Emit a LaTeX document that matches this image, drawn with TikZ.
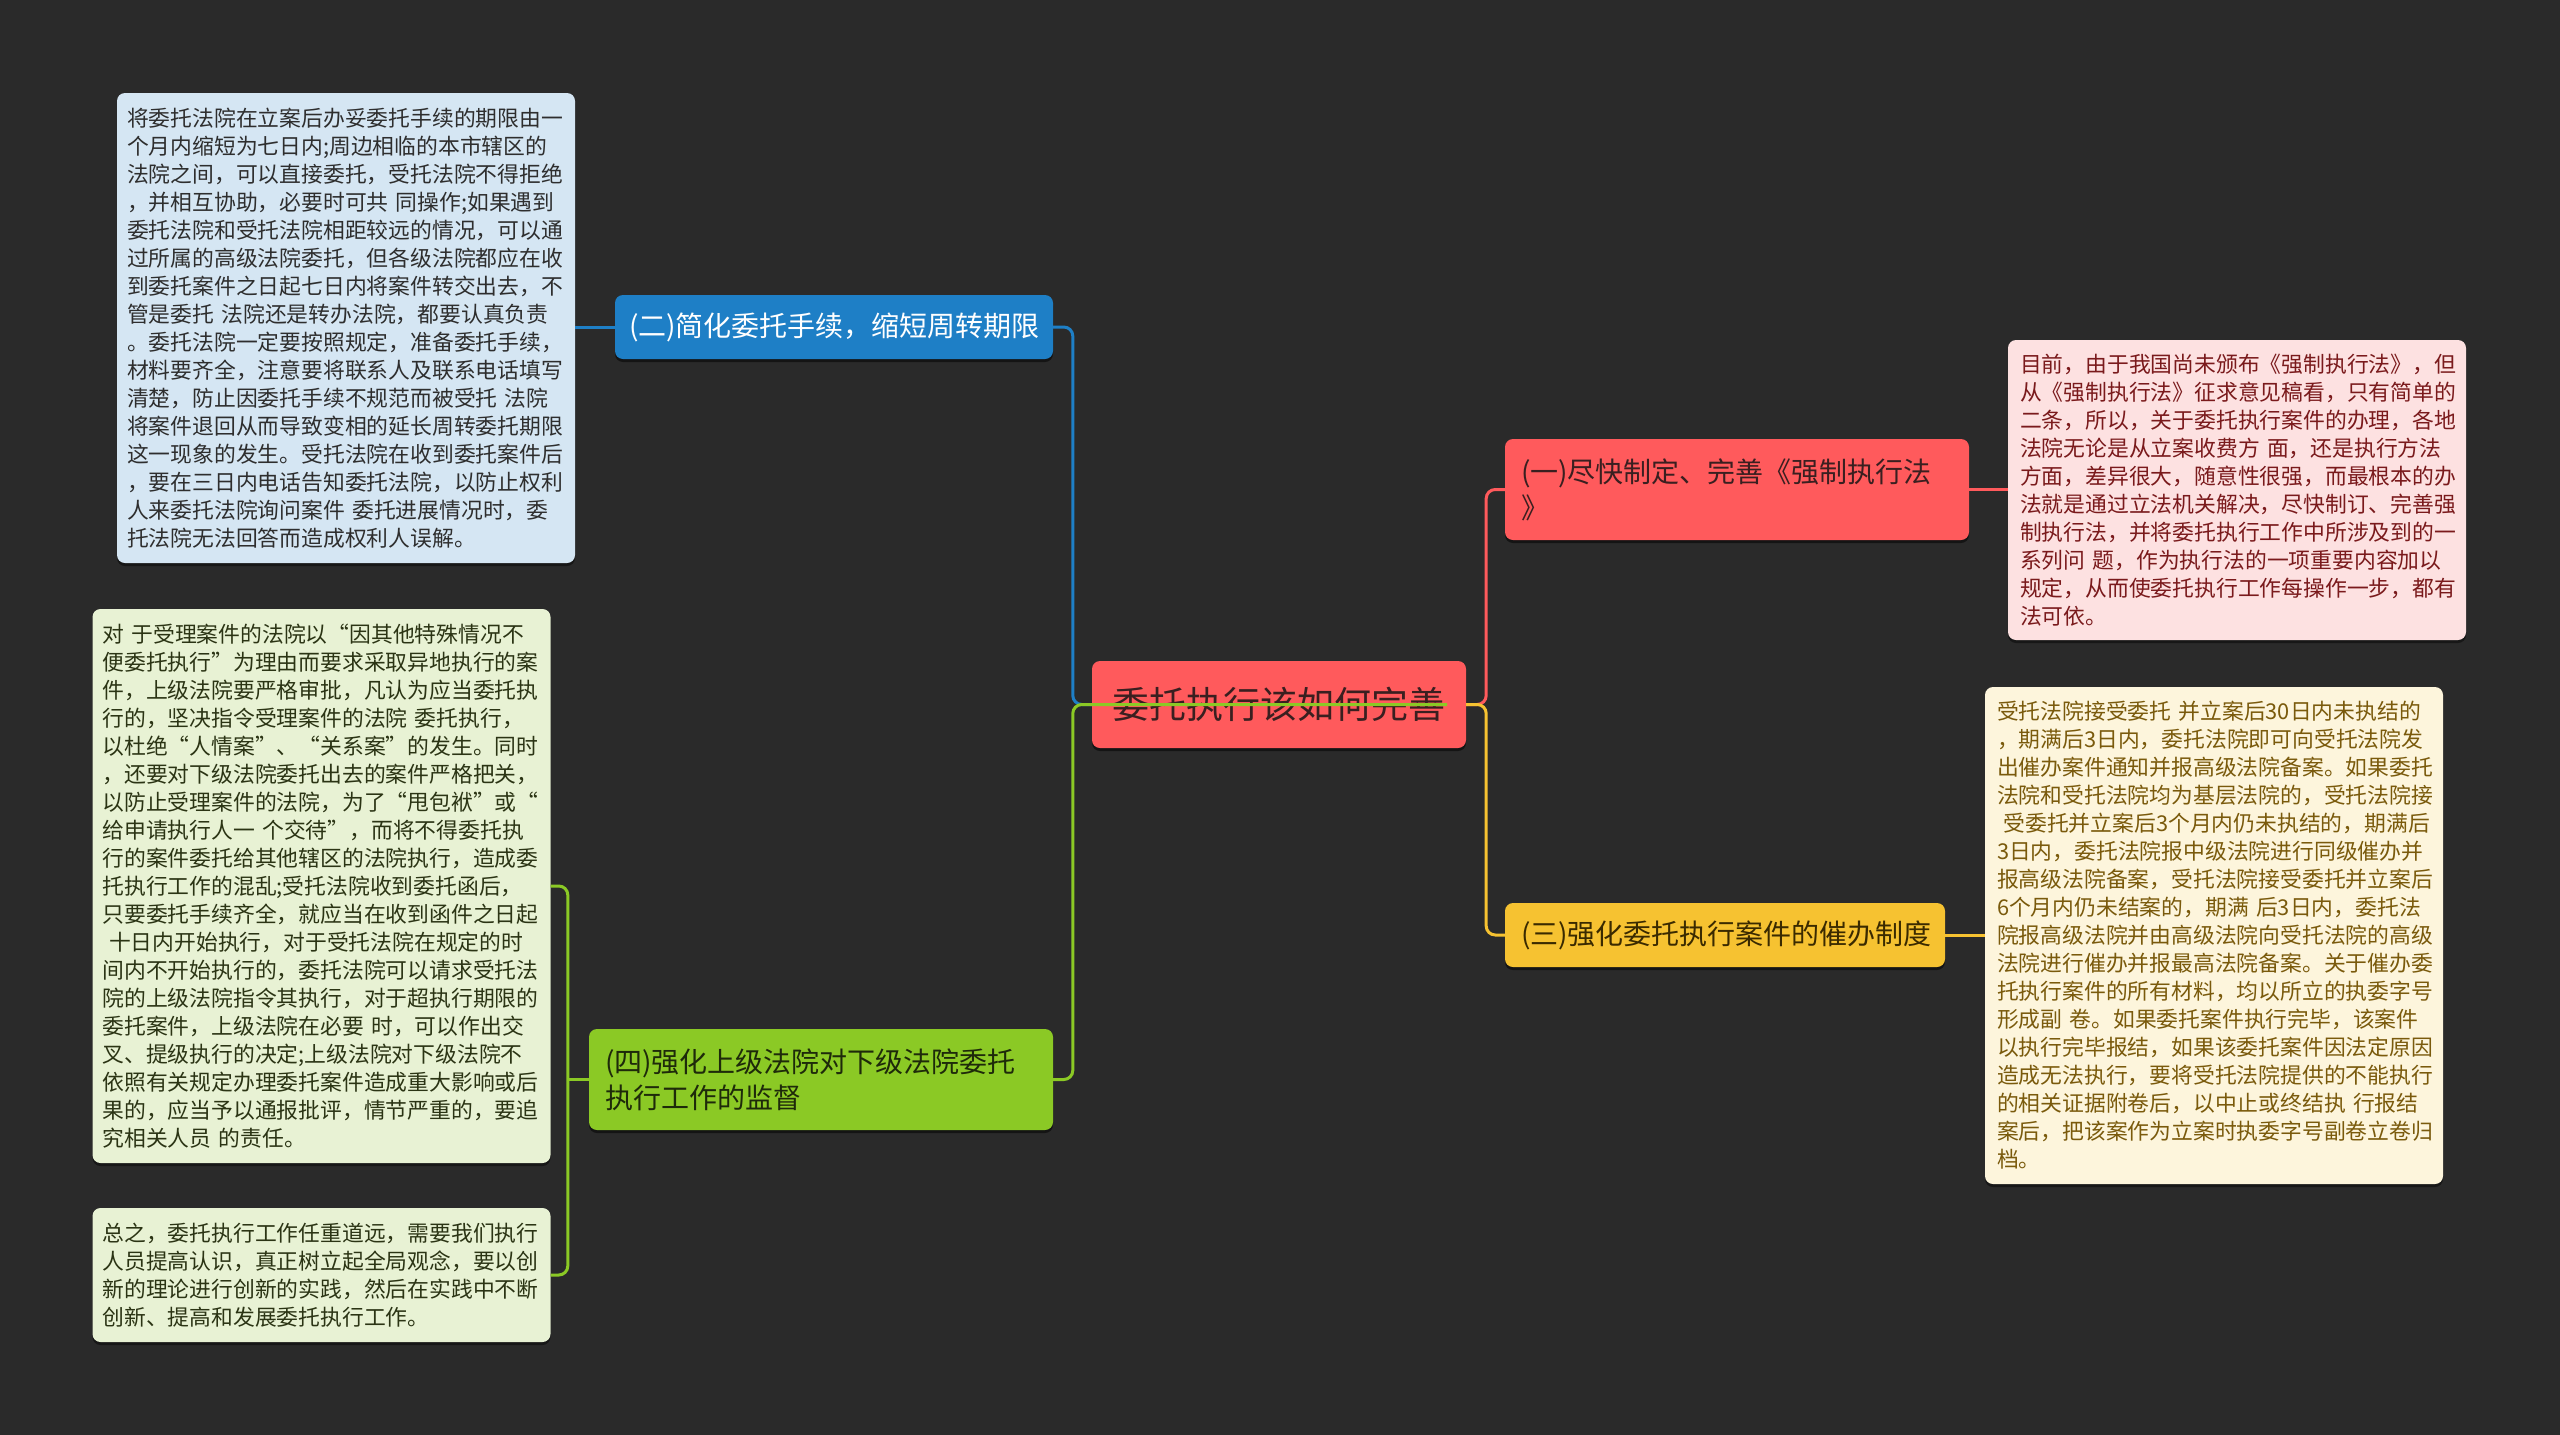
\documentclass[tikz,border=0pt]{standalone}
\usepackage{fontspec}
\setmainfont{Noto Sans CJK SC}
\usetikzlibrary{calc,shadows}
\definecolor{bg}{HTML}{2A2A2A}
\definecolor{cblue}{HTML}{1E7FC6}
\definecolor{cred}{HTML}{FF5A5C}
\definecolor{cyel}{HTML}{F6C231}
\definecolor{cgreen}{HTML}{8BC925}
\definecolor{lblue}{HTML}{D5E6F3}
\definecolor{lgreen}{HTML}{E8F2D4}
\definecolor{lpink}{HTML}{FDE1E1}
\definecolor{lcream}{HTML}{FDF5DC}
\definecolor{tdark}{HTML}{2E2E2E}
\definecolor{tgreen}{HTML}{2B3414}
\definecolor{tred}{HTML}{7A1A1C}
\definecolor{tbrown}{HTML}{7A5A0C}
\definecolor{tbr1}{HTML}{3A1F20}
\definecolor{tbr3}{HTML}{3A2A00}
\definecolor{tbr4}{HTML}{1E2A0A}
\tikzset{
  leafbox/.style={rounded corners=8pt, inner xsep=10pt, inner ysep=4pt, text width=438pt, minimum width=458pt, align=left,
    font=\fontsize{21.8pt}{28pt}\selectfont,
    drop shadow={shadow xshift=0pt, shadow yshift=-3pt, fill=black, opacity=0.45}},
  branchbox/.style={rounded corners=8pt, inner ysep=4pt, align=left,
    font=\fontsize{28pt}{36pt}\selectfont,
    drop shadow={shadow xshift=0pt, shadow yshift=-3pt, fill=black, opacity=0.5}},
  conn/.style={line width=3pt, rounded corners=9pt},
}
\begin{document}
\begin{tikzpicture}[x=1pt,y=-1pt]
\useasboundingbox (0,0) rectangle (2560,1435);
\fill[bg] (0,0) rectangle (2560,1435);

% center
\node[rounded corners=8pt, fill=cred, text=tbr1, minimum width=374pt, minimum height=87pt, inner sep=0pt,
  font=\fontsize{37pt}{44pt}\selectfont,
  drop shadow={shadow xshift=0pt, shadow yshift=-3pt, fill=black, opacity=0.5}] (c) at (1279,704.5) {委托执行该如何完善};

% branches
\node[branchbox, fill=cblue, text=white, minimum width=438pt, minimum height=64pt, inner xsep=14pt, text width=410pt] (b2) at (834,327) {(二)简化委托手续，缩短周转期限};
\node[branchbox, fill=cred, text=tbr1, minimum width=464pt, minimum height=101pt, inner xsep=16pt, text width=432pt] (b1) at (1737,489.5) {(一)尽快制定、完善《强制执行法\\》};
\node[branchbox, fill=cyel, text=tbr3, minimum width=440pt, minimum height=64pt, inner xsep=16pt, text width=408pt] (b3) at (1725,935) {(三)强化委托执行案件的催办制度};
\node[branchbox, fill=cgreen, text=tbr4, minimum width=464pt, minimum height=101pt, inner xsep=16pt, text width=432pt] (b4) at (821,1079.5) {(四)强化上级法院对下级法院委托\\执行工作的监督};

% leaves
\node[leafbox, fill=lblue, text=tdark, minimum height=470pt] (l1) at (346,328) {将委托法院在立案后办妥委托手续的期限由一\\
个月内缩短为七日内;周边相临的本市辖区的\\
法院之间，可以直接委托，受托法院不得拒绝\\
，并相互协助，必要时可共 同操作;如果遇到\\
委托法院和受托法院相距较远的情况，可以通\\
过所属的高级法院委托，但各级法院都应在收\\
到委托案件之日起七日内将案件转交出去，不\\
管是委托 法院还是转办法院，都要认真负责\\
。委托法院一定要按照规定，准备委托手续，\\
材料要齐全，注意要将联系人及联系电话填写\\
清楚，防止因委托手续不规范而被受托 法院\\
将案件退回从而导致变相的延长周转委托期限\\
这一现象的发生。受托法院在收到委托案件后\\
，要在三日内电话告知委托法院，以防止权利\\
人来委托法院询问案件 委托进展情况时，委\\
托法院无法回答而造成权利人误解。};

\node[leafbox, fill=lgreen, text=tgreen, minimum height=554pt] (l2) at (321.5,886) {对 于受理案件的法院以“因其他特殊情况不\\
便委托执行”为理由而要求采取异地执行的案\\
件，上级法院要严格审批，凡认为应当委托执\\
行的，坚决指令受理案件的法院 委托执行，\\
以杜绝“人情案”、“关系案”的发生。同时\\
，还要对下级法院委托出去的案件严格把关，\\
以防止受理案件的法院，为了“甩包袱”或“\\
给申请执行人一 个交待”，而将不得委托执\\
行的案件委托给其他辖区的法院执行，造成委\\
托执行工作的混乱;受托法院收到委托函后，\\
只要委托手续齐全，就应当在收到函件之日起\\
\hspace*{0.3em}十日内开始执行，对于受托法院在规定的时\\
间内不开始执行的，委托法院可以请求受托法\\
院的上级法院指令其执行，对于超执行期限的\\
委托案件，上级法院在必要 时，可以作出交\\
叉、提级执行的决定;上级法院对下级法院不\\
依照有关规定办理委托案件造成重大影响或后\\
果的，应当予以通报批评，情节严重的，要追\\
究相关人员 的责任。};

\node[leafbox, fill=lgreen, text=tgreen, minimum height=134pt] (l3) at (321.5,1275) {总之，委托执行工作任重道远，需要我们执行\\
人员提高认识，真正树立起全局观念，要以创\\
新的理论进行创新的实践，然后在实践中不断\\
创新、提高和发展委托执行工作。};

\node[leafbox, fill=lpink, text=tred, minimum height=300pt, inner xsep=12pt, text width=434pt] (r1) at (2237,490) {目前，由于我国尚未颁布《强制执行法》，但\\
从《强制执行法》征求意见稿看，只有简单的\\
二条，所以，关于委托执行案件的办理，各地\\
法院无论是从立案收费方 面，还是执行方法\\
方面，差异很大，随意性很强，而最根本的办\\
法就是通过立法机关解决，尽快制订、完善强\\
制执行法，并将委托执行工作中所涉及到的一\\
系列问 题，作为执行法的一项重要内容加以\\
规定，从而使委托执行工作每操作一步，都有\\
法可依。};

\node[leafbox, fill=lcream, text=tbrown, minimum height=497pt, inner xsep=12pt, text width=434pt] (r2) at (2214,935.5) {受托法院接受委托 并立案后30日内未执结的\\
，期满后3日内，委托法院即可向受托法院发\\
出催办案件通知并报高级法院备案。如果委托\\
法院和受托法院均为基层法院的，受托法院接\\
\hspace*{0.3em}受委托并立案后3个月内仍未执结的，期满后\\
3日内，委托法院报中级法院进行同级催办并\\
报高级法院备案，受托法院接受委托并立案后\\
6个月内仍未结案的，期满 后3日内，委托法\\
院报高级法院并由高级法院向受托法院的高级\\
法院进行催办并报最高法院备案。关于催办委\\
托执行案件的所有材料，均以所立的执委字号\\
形成副 卷。如果委托案件执行完毕，该案件\\
以执行完毕报结，如果该委托案件因法定原因\\
造成无法执行，要将受托法院提供的不能执行\\
的相关证据附卷后，以中止或终结执 行报结\\
案后，把该案作为立案时执委字号副卷立卷归\\
档。};

% junctions
\coordinate (jl) at ($(c.west)+(-19,0)$);
\coordinate (jr) at ($(c.east)+(20,0)$);
\coordinate (gend) at ($(c.east)+(-19,0)$);

% connectors center
\draw[conn, cblue] (b2.east) -| (jl) -- (c.west);
\draw[conn, cred] (c.east) -- (jr) |- (b1.west);
\draw[conn, cyel] (c.east) -- (jr) |- (b3.west);
\draw[conn, cgreen] (b4.east) -| (jl) -- (gend);

% connectors leaves
\draw[conn, cblue] (b2.west) -- (b2.west -| l1.east);
\draw[conn, cred] (b1.east) -- (b1.east -| r1.west);
\draw[conn, cyel] (b3.east) -- (b3.east -| r2.west);
\draw[conn, cgreen] (b4.west) -- ++(-21,0);
\draw[conn, cgreen] (l2.east) -| ($(b4.west)+(-21,0)$) |- (l3.east);
\end{tikzpicture}
\end{document}
